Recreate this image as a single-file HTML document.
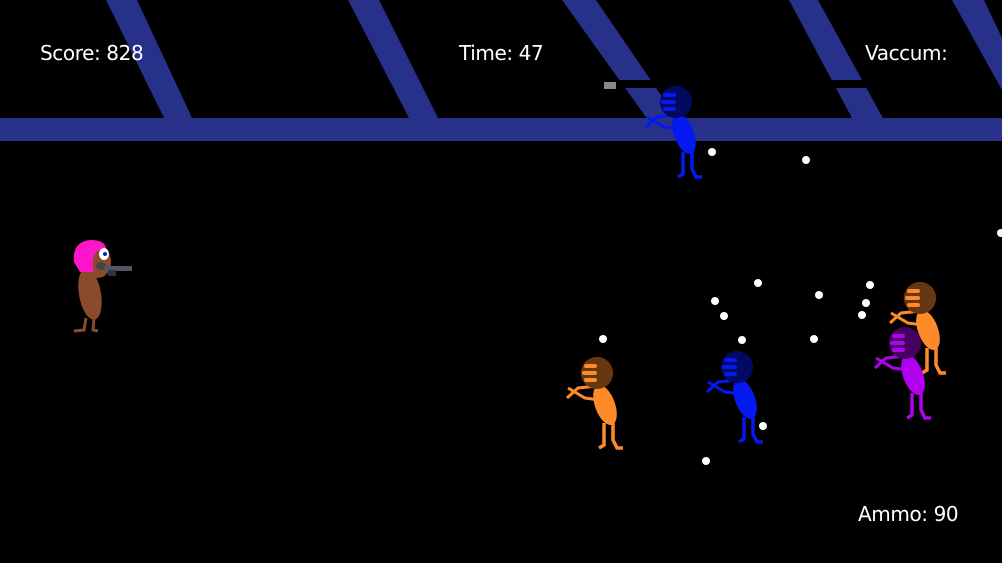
<!DOCTYPE html>
<html><head><meta charset="utf-8"><style>
html,body{margin:0;padding:0;background:#000;width:1002px;height:563px;overflow:hidden}
svg{display:block}
text{font-family:"DejaVu Sans","Liberation Sans",sans-serif;font-size:20px;fill:#fff;letter-spacing:-0.4px}
</style></head><body>
<svg width="1002" height="563" viewBox="0 0 1002 563" xmlns="http://www.w3.org/2000/svg">
<rect width="1002" height="563" fill="#000"/>
<g fill="#27318a">
<polygon points="106,0 137,0 193,120 165,120"/>
<polygon points="348,0 379,0 439,120 410,120"/>
<polygon points="562,0 596,0 678,120 648,120"/>
<polygon points="789,0 818,0 884,120 853,120"/>
<polygon points="952,0 984,0 1002,38 1002,90"/>
<rect x="0" y="118" width="1002" height="23"/>
</g>
<rect x="617" y="80" width="255" height="8" fill="#000"/>
<rect x="604" y="82" width="12" height="7" fill="#888"/>

<defs>
<g id="en">
<ellipse cx="8" cy="32" rx="10" ry="21" transform="rotate(-20 8 32)" stroke="none"/>
<polyline points="7,50 7,72 2,75" fill="none" stroke-width="3.5"/>
<polyline points="16,50 16,67 20,75 26,75" fill="none" stroke-width="3.5"/>
<polyline points="1,13 -19,15 -30,25" fill="none" stroke-width="3"/>
<polyline points="3,27 -12,25 -29,15" fill="none" stroke-width="3"/>
<circle cx="0" cy="0" r="16" stroke="none"/>
<circle cx="0" cy="0" r="16" fill="#000" fill-opacity="0.6" stroke="none"/>
<rect x="-13" y="-9" width="13" height="4" rx="2" stroke="none"/>
<rect x="-15" y="-2" width="15" height="4" rx="2" stroke="none"/>
<rect x="-13" y="5" width="13" height="4" rx="2" stroke="none"/>
</g>
</defs>

<g fill="#ff8a2a" stroke="#ff8a2a"><use href="#en" x="597" y="373"/></g>
<g fill="#ff8a2a" stroke="#ff8a2a"><use href="#en" x="920" y="298"/></g>
<g fill="#0418f0" stroke="#0418f0"><use href="#en" x="737" y="367"/></g>
<g fill="#b000ee" stroke="#b000ee"><use href="#en" x="905" y="343"/></g>
<g fill="#0418f0" stroke="#0418f0"><use href="#en" x="676" y="102"/></g>

<!-- player -->
<g>
<ellipse cx="90" cy="294" rx="11" ry="26" fill="#8a4a2c" transform="rotate(-10 90 294)"/>
<ellipse cx="98" cy="262" rx="13" ry="16" fill="#8a4a2c"/>
<path d="M74,262 Q72,242 90,240 Q108,240 106,252 L98,250 Q90,258 94,272 L80,272 Z" fill="#ff16c8"/>
<ellipse cx="104" cy="254" rx="5" ry="6" fill="#fff"/>
<circle cx="105" cy="254" r="2" fill="#1020d0"/>
<ellipse cx="101" cy="266" rx="5" ry="4" fill="#444"/>
<rect x="104" y="266" width="28" height="5" fill="#556"/>
<rect x="108" y="270" width="8" height="6" fill="#334"/>
<polyline points="86,318 84,330 74,331" fill="none" stroke="#8a4a2c" stroke-width="3"/>
<polyline points="94,318 93,330 98,331" fill="none" stroke="#8a4a2c" stroke-width="3"/>
</g>

<g fill="#fff">
<circle cx="712" cy="152" r="4"/><circle cx="806" cy="160" r="4"/>
<circle cx="1001" cy="233" r="4"/><circle cx="758" cy="283" r="4"/>
<circle cx="715" cy="301" r="4"/><circle cx="724" cy="316" r="4"/>
<circle cx="819" cy="295" r="4"/><circle cx="870" cy="285" r="4"/>
<circle cx="866" cy="303" r="4"/><circle cx="862" cy="315" r="4"/>
<circle cx="742" cy="340" r="4"/><circle cx="814" cy="339" r="4"/>
<circle cx="603" cy="339" r="4"/><circle cx="763" cy="426" r="4"/>
<circle cx="706" cy="461" r="4"/>
</g>

<text x="40" y="60">Score: 828</text>
<text x="459" y="60">Time: 47</text>
<text x="865" y="60">Vaccum:</text>
<text x="858" y="521">Ammo: 90</text>
</svg>
</body></html>
